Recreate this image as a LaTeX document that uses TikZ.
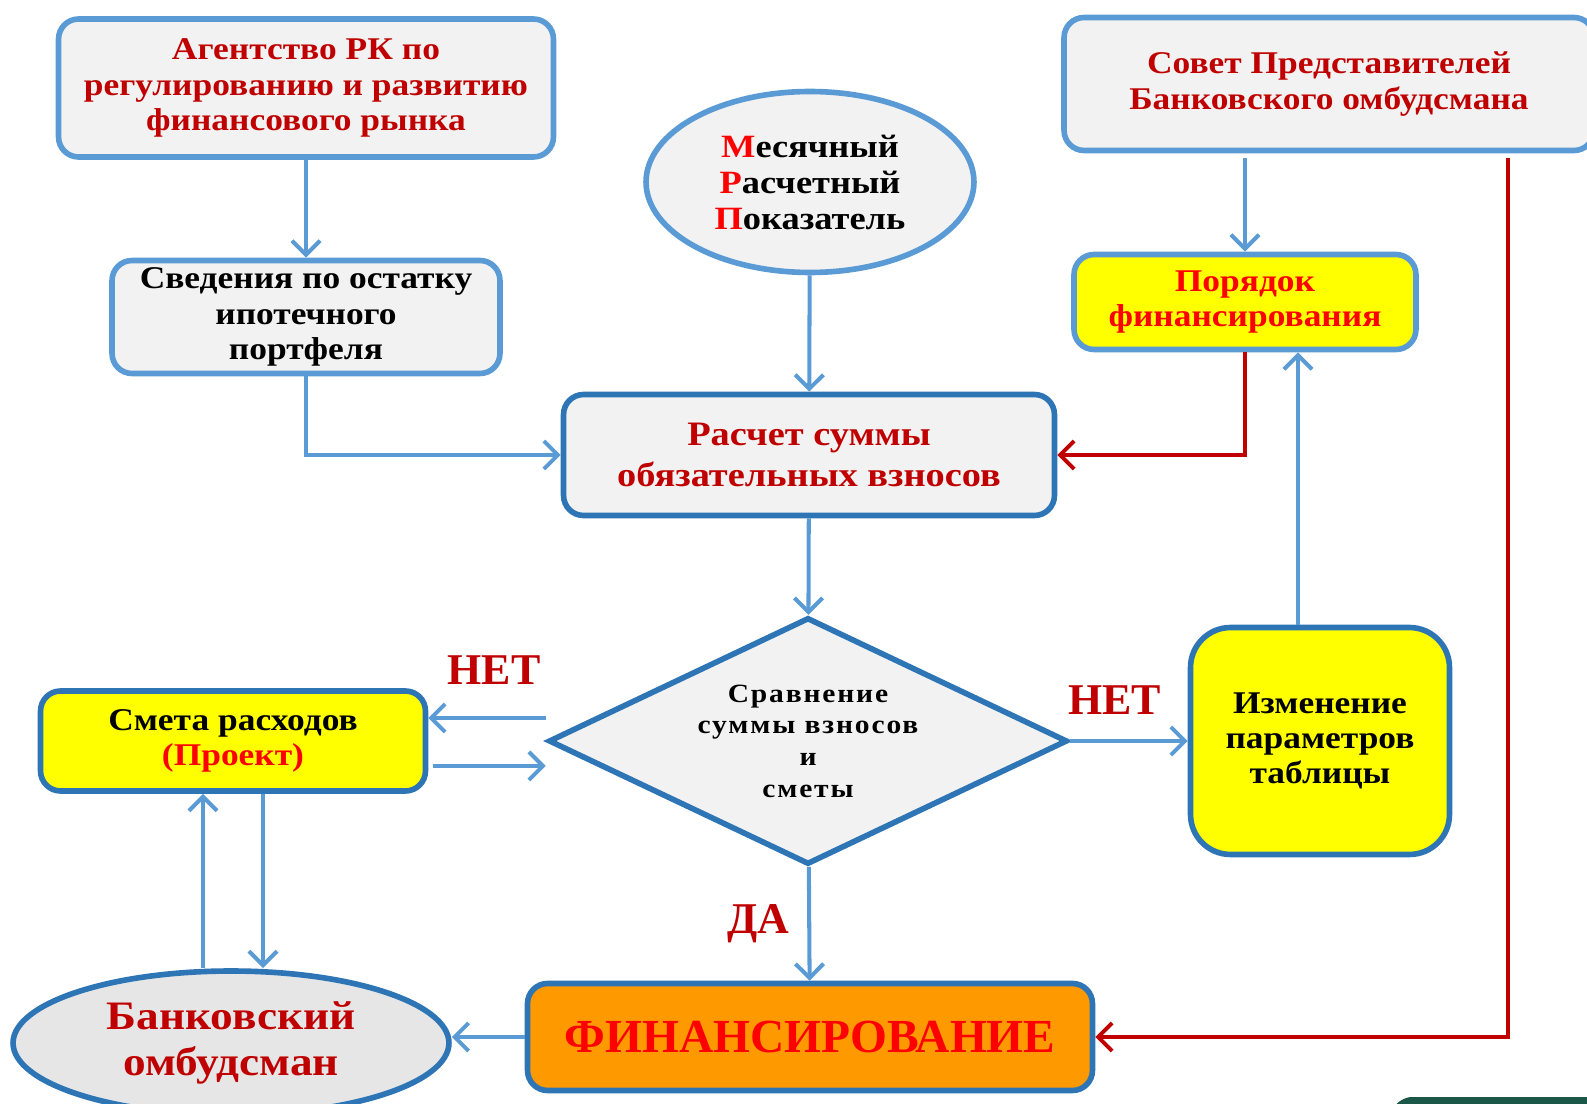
\documentclass[tikz,border=0pt]{standalone}
\usepackage{fontspec}
\setmainfont{Liberation Serif}[FakeStretch=1.12]
\newfontfamily\plainserif{Liberation Serif}
\usetikzlibrary{shapes.geometric,arrows.meta}
\definecolor{lightblue}{HTML}{5B9BD5}
\definecolor{darkblue}{HTML}{2E75B6}
\definecolor{boxgray}{HTML}{F2F2F2}
\definecolor{ellgray}{HTML}{E6E6E6}
\definecolor{darkred}{HTML}{C00000}
\definecolor{brightred}{HTML}{FF0000}
\definecolor{boxyellow}{HTML}{FFFF00}
\definecolor{boxorange}{HTML}{FF9900}
\definecolor{cornergreen}{HTML}{1B5748}
\newcommand{\setsize}[2]{\fontsize{#1}{#2}\selectfont}
\tikzstyle{light box}=[
    draw = lightblue,
    line width = 3.2pt,
    fill = boxgray,
    rounded corners = 0.4cm,
    align = center
]
\tikzstyle{dark box}=[
    draw = darkblue,
    line width = 3.2pt,
    fill = boxgray,
    rounded corners = 0.4cm,
    align = center
]
\begin{document}
\begin{tikzpicture}[x=0.02cm, y=-0.02cm,
    flow/.style = {draw=lightblue, line width=2.3pt, -{Straight Barb[length=8pt, width=16pt]}},
    red flow/.style = {draw=darkred, line width=2.3pt, -{Straight Barb[length=8pt, width=16pt]}},
    answer/.style = {text=darkred, font=\plainserif\bfseries\setsize{25}{28}, inner sep=0pt}]
        \useasboundingbox (0,0) rectangle (1587,1104);

        % sources
        \node[light box, minimum width=9.9cm, minimum height=2.76cm, text=darkred, font=\bfseries\setsize{18}{20}] (agency) at (306,88) {Агентство РК по\\регулированию и развитию\\финансового рынка};
        \node[light box, minimum width=7.76cm, minimum height=2.26cm, font=\bfseries\setsize{18}{20}] (info) at (306,317) {Сведения по остатку\\ипотечного\\портфеля};
        \node[light box, ellipse, minimum width=6.56cm, minimum height=3.62cm, inner sep=0pt, font=\bfseries\setsize{18.5}{20.5}] (mrp) at (810,182) {{\color{brightred}М}есячный\\{\color{brightred}Р}асчетный\\{\color{brightred}П}оказатель};
        \node[light box, minimum width=10.6cm, minimum height=2.66cm, text=darkred, font=\bfseries\setsize{18}{21}] (council) at (1329,84) {Совет Представителей\\Банковского омбудсмана};
        \node[light box, fill=boxyellow, minimum width=6.84cm, minimum height=1.9cm, text=brightred, font=\bfseries\setsize{18}{20}] (order) at (1245,302) {Порядок\\финансирования};

        % calculation and check
        \node[dark box, minimum width=9.82cm, minimum height=2.42cm, text=darkred, font=\bfseries\setsize{19.5}{23}] (calc) at (809,455) {Расчет суммы\\обязательных взносов};
        \node[draw=darkblue, line width=3.2pt, fill=boxgray, diamond, aspect=2.07, minimum width=10.38cm, minimum height=4.94cm, inner sep=0pt, align=center, font=\bfseries\setsize{15}{18}\addfontfeature{LetterSpace=7}] (compare) at (808,741) {Сравнение\\суммы взносов\\и\\сметы};
        \node[dark box, fill=boxyellow, minimum width=7.7cm, minimum height=2cm, font=\bfseries\setsize{18}{20}] (estimate) at (233,741) {Смета расходов\\{\color{brightred}(Проект)}};
        \node[dark box, fill=boxyellow, rounded corners=0.8cm, minimum width=5.18cm, minimum height=4.54cm, font=\bfseries\setsize{18}{20}] (change) at (1320,741) {Изменение\\параметров\\таблицы};

        % result
        \node[dark box, fill=boxorange, minimum width=11.3cm, minimum height=2.14cm, text=brightred, font=\plainserif\bfseries\setsize{27}{30}] (funding) at (810,1037) {ФИНАНСИРОВАНИЕ};
        \node[dark box, ellipse, fill=ellgray, minimum width=8.72cm, minimum height=2.88cm, inner sep=0pt, text=darkred, font=\bfseries\setsize{23}{26}] (ombudsman) at (231,1043) {Банковский\\омбудсман};

        \coordinate (rail) at (1508,0);
        \coordinate (back) at (1298,0);

        \draw[flow] (agency) -- (info);
        \draw[flow] (info.south) |- (calc.west);
        \draw[flow] (mrp) -- (calc);
        \draw[flow] ([yshift=-0.1cm]council.south -| order.north) -- (order.north);
        \draw[red flow] ([yshift=-0.1cm]council.south -| rail) |- (funding.east);
        \draw[red flow] (order.south) |- (calc.east);
        \draw[flow] (calc) -- (compare);
        \draw[flow] (change.north -| back) -- (order.south -| back);

        \draw[flow] (compare) -- node[answer, pos=0.38, above=0.48cm] {НЕТ} (change);
        \draw[flow] ([yshift=0.46cm]compare.west) -- node[answer, pos=0.44, above=0.62cm] {НЕТ} ([yshift=0.46cm]estimate.east);
        \draw[flow] ([xshift=0.1cm, yshift=-0.5cm]estimate.east) -- ([yshift=-0.5cm]compare.west);
        \draw[flow] (compare) -- node[answer, midway, left=0.36cm] {ДА} (funding);

        \draw[flow] (funding.west) -- (funding.west -| ombudsman.east);
        \draw[flow] ([xshift=-0.6cm]estimate.south |- ombudsman.north) -- ([xshift=-0.6cm]estimate.south);
        \draw[flow] ([xshift=0.6cm]estimate.south) -- ([xshift=0.6cm]estimate.south |- ombudsman.north);

        % corner of the next slide element
        \fill[cornergreen, rounded corners=8pt] (1386,1125) -- (1398,1097) -- (1600,1097) -- (1600,1125) -- cycle;
    \end{tikzpicture}
\end{document}
